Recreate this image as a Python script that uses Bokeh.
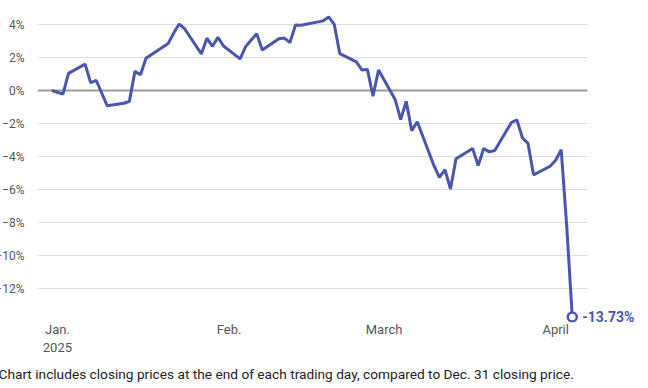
import pandas as pd
from bokeh.plotting import figure
from bokeh.models import FixedTicker, Label, Title, Range1d, Grid
from bokeh.embed import file_html
from bokeh.resources import INLINE

# ---- data (percent change vs. Dec. 31 close) ----
dates = ["2024-12-31", "2025-01-02", "2025-01-03", "2025-01-06", "2025-01-07", "2025-01-08",
         "2025-01-10", "2025-01-13", "2025-01-14", "2025-01-15", "2025-01-16", "2025-01-17",
         "2025-01-21", "2025-01-22", "2025-01-23", "2025-01-24", "2025-01-27", "2025-01-28",
         "2025-01-29", "2025-01-30", "2025-01-31", "2025-02-03", "2025-02-04", "2025-02-05",
         "2025-02-06", "2025-02-07", "2025-02-10", "2025-02-11", "2025-02-12", "2025-02-13",
         "2025-02-14", "2025-02-18", "2025-02-19", "2025-02-20", "2025-02-21", "2025-02-24",
         "2025-02-25", "2025-02-26", "2025-02-27", "2025-02-28", "2025-03-03", "2025-03-04",
         "2025-03-05", "2025-03-06", "2025-03-07", "2025-03-10", "2025-03-11", "2025-03-12",
         "2025-03-13", "2025-03-14", "2025-03-17", "2025-03-18", "2025-03-19", "2025-03-20",
         "2025-03-21", "2025-03-24", "2025-03-25", "2025-03-26", "2025-03-27", "2025-03-28",
         "2025-03-31", "2025-04-01", "2025-04-02", "2025-04-03", "2025-04-04"]
pct = [0.00, -0.22, 1.04, 1.60, 0.47, 0.62,
       -0.93, -0.77, -0.66, 1.16, 0.95, 1.96,
       2.85, 3.48, 4.03, 3.73, 2.22, 3.17,
       2.68, 3.22, 2.70, 1.92, 2.66, 3.06,
       3.44, 2.45, 3.14, 3.18, 2.90, 3.97,
       3.96, 4.22, 4.46, 4.01, 2.24, 1.73,
       1.25, 1.27, -0.34, 1.24, -0.54, -1.76,
       -0.66, -2.43, -1.89, -4.54, -5.26, -4.80,
       -5.97, -4.13, -3.51, -4.54, -3.51, -3.72,
       -3.64, -1.94, -1.78, -2.88, -3.20, -5.11,
       -4.59, -4.23, -3.58, -8.25, -13.73]

month_ticks = ["2025-01-01", "2025-02-01", "2025-03-01", "2025-04-01"]
month_labels = ["Jan.\n2025", "Feb.", "March", "April"]
y_ticks = [-12, -10, -8, -6, -4, -2, 0, 2, 4]
y_labels = ["\u221212%", "\u221210%", "\u22128%", "\u22126%", "\u22124%", "\u22122%", "0%", "2%", "4%"]
note = "Chart includes closing prices at the end of each trading day, compared to Dec. 31 closing price."

# ---- conversions ----
origin = pd.Timestamp("2025-01-01")
xs = [(pd.Timestamp(d) - origin).days for d in dates]
xt = [(pd.Timestamp(d) - origin).days for d in month_ticks]

LINE = "#4a55b0"
FONT = "Roboto"
X0, X1 = -3.6, 95.7          # extent of the horizontal grid lines
XR = 104.6                   # right end of the plotting frame (room for end label)

p = figure(width=648, height=388, output_backend="svg", toolbar_location=None,
           x_range=Range1d(X0, XR), y_range=Range1d(-14.06, 4.667),
           min_border_left=39, min_border_right=4, min_border_top=13, min_border_bottom=66,
           styles={"margin-left": "-8px", "margin-right": "-8px", "margin-bottom": "-8px"})
p.outline_line_color = None
p.background_fill_color = "white"
p.border_fill_color = "white"

# x axis
p.xaxis.ticker = FixedTicker(ticks=xt)
p.xaxis.major_label_overrides = {t: l for t, l in zip(xt, month_labels)}
p.xaxis.axis_line_color = None
p.xaxis.major_tick_line_color = None
p.xaxis.minor_tick_line_color = None
p.xaxis.major_label_standoff = -7
p.xaxis.major_label_text_font = FONT
p.xaxis.major_label_text_font_size = "13px"
p.xaxis.major_label_text_color = "#555555"
p.xaxis.major_label_text_line_height = 1.2
p.xgrid.grid_line_color = None

# y axis
p.yaxis.ticker = FixedTicker(ticks=y_ticks)
p.yaxis.major_label_overrides = {t: l for t, l in zip(y_ticks, y_labels)}
p.yaxis.axis_line_color = None
p.yaxis.major_tick_line_color = None
p.yaxis.minor_tick_line_color = None
p.yaxis.major_label_standoff = 7
p.yaxis.major_label_text_font = FONT
p.yaxis.major_label_text_font_size = "12px"
p.yaxis.major_label_text_color = "#555555"
p.ygrid.grid_line_color = "#dcdcdc"
p.ygrid.grid_line_width = 1
p.ygrid.cross_bounds = (X0, X1)

zero = Grid(dimension=1, ticker=FixedTicker(ticks=[0]), grid_line_color="#999999",
            grid_line_width=2, cross_bounds=(X0, X1))
p.add_layout(zero)

p.line(xs, pct, line_color=LINE, line_width=3)
p.scatter([xs[-1]], [pct[-1]], size=9, fill_color="white", line_color=LINE, line_width=2.5)

p.add_layout(Label(x=xs[-1], y=pct[-1], text=f"{pct[-1]:.2f}%", x_offset=10,
                   text_baseline="middle", text_font=FONT, text_font_size="14px",
                   text_font_style="bold", text_color=LINE))

p.add_layout(Title(text=note, align="left", offset=-39, text_font=FONT,
                   text_font_size="13.7px", text_font_style="normal", text_color="#222222",
                   standoff=13), "below")

open("out.html", "w").write(file_html(p, INLINE))
